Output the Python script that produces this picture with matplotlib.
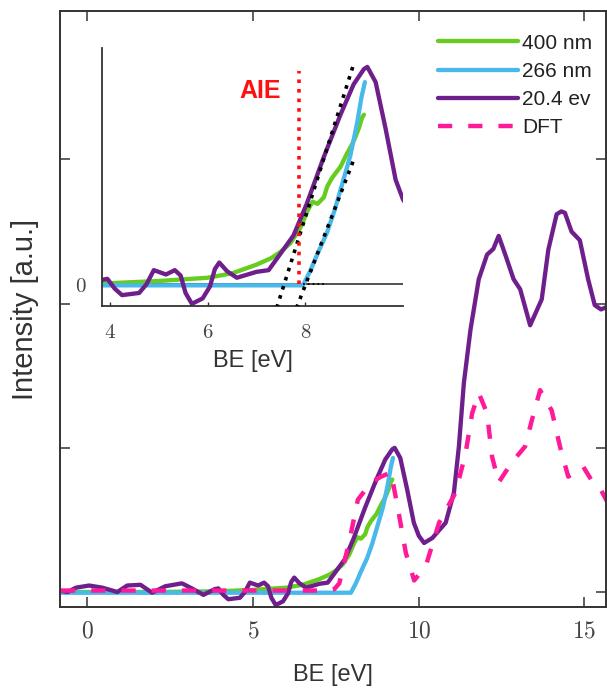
import matplotlib
matplotlib.use("Agg")
import matplotlib.pyplot as plt
from matplotlib.ticker import FuncFormatter

plt.rcParams['mathtext.fontset'] = 'cm'
plt.rcParams['font.family'] = ['Liberation Sans', 'DejaVu Sans']
plt.rcParams['lines.solid_joinstyle'] = 'round'
plt.rcParams['lines.solid_capstyle'] = 'round'

# ---------------- data ----------------
x_400 = [-0.8, 2.0, 4.0, 5.0, 6.0, 6.5, 7.0, 7.3, 7.5, 7.7, 7.9, 8.05, 8.15, 8.25, 8.38,
         8.45, 8.55, 8.65, 8.72, 8.85, 8.95, 9.03, 9.1, 9.16, 9.2]
y_400 = [0.0, 0.0, 0.005, 0.015, 0.03, 0.05, 0.09, 0.12, 0.15, 0.19, 0.26, 0.34, 0.38, 0.37, 0.40,
         0.45, 0.49, 0.52, 0.54, 0.60, 0.64, 0.68, 0.72, 0.765, 0.78]

x_266 = [-0.8, 7.95, 8.1, 8.25, 8.44, 8.6, 8.78, 8.92, 9.06, 9.15, 9.22]
y_266 = [-0.005, -0.005, 0.06, 0.14, 0.235, 0.34, 0.48, 0.59, 0.74, 0.86, 0.93]

x_uv = [-0.85, -0.6, -0.35, 0.05, 0.45, 0.9, 1.2, 1.6, 1.95, 2.35, 2.85, 3.15, 3.5, 3.84, 3.95, 4.1,
        4.25, 4.6, 4.75, 4.9, 5.15, 5.33, 5.45, 5.55, 5.68, 5.9, 6.05, 6.15, 6.24, 6.4, 6.6, 7.0,
        7.25, 7.49, 7.76, 8.03, 8.37, 8.72, 8.99, 9.2, 9.27, 9.44, 9.64, 9.85, 10.0, 10.16, 10.41,
        10.81, 11.06, 11.21, 11.36, 11.56, 11.81, 12.06, 12.25, 12.41, 12.61, 12.86, 13.06, 13.36,
        13.71, 13.91, 14.16, 14.3, 14.41, 14.61, 14.86, 15.11, 15.31, 15.5, 15.7]
y_uv = [0.01, 0.0, 0.03, 0.045, 0.03, 0.0, 0.045, 0.05, -0.005, 0.04, 0.06, 0.025, -0.02, 0.02, 0.025, -0.02,
        -0.05, -0.04, 0.0, 0.065, 0.045, 0.065, 0.04, -0.04, -0.09, -0.065, -0.01, 0.07, 0.10, 0.06, 0.03, 0.057,
        0.065, 0.14, 0.225, 0.37, 0.58, 0.78, 0.92, 0.99, 1.0, 0.93, 0.72, 0.48, 0.39, 0.34, 0.375,
        0.48, 0.69, 1.01, 1.45, 1.82, 2.17, 2.34, 2.38, 2.47, 2.34, 2.17, 2.10, 1.85,
        2.03, 2.375, 2.62, 2.64, 2.63, 2.50, 2.44, 2.17, 1.99, 1.96, 1.98]

x_dft = [-0.8, 7.3, 7.45, 7.6, 7.91, 8.16, 8.56, 8.86, 9.16, 9.36, 9.61, 9.86, 10.21, 10.61,
         11.11, 11.41, 11.61, 11.81, 12.06, 12.21, 12.41, 12.81, 13.21, 13.41, 13.66, 14.01,
         14.26, 14.51, 14.96, 15.2, 15.47, 15.7]
y_dft = [0.01, 0.01, 0.02, 0.06, 0.36, 0.64, 0.76, 0.80, 0.83, 0.59, 0.27, 0.08, 0.18, 0.48,
         0.69, 0.96, 1.24, 1.38, 1.24, 0.94, 0.76, 0.90, 1.01, 1.19, 1.40, 1.26,
         1.01, 0.80, 0.87, 0.78, 0.72, 0.62]

labels = ['400 nm', '266 nm', '20.4 ev', 'DFT']

# onset fit lines and adiabatic ionisation energy (inset)
fit1_x = [7.357, 9.0]
fit1_y = [-0.15, 1.02]
fit2_x = [7.75, 9.0]
fit2_y = [-0.15, 0.578]
zero_fit_x = [7.96, 8.45]
zero_fit_y = [0.0, 0.0]
aie_x = 7.88
aie_top = 0.98

main_xticks = [0, 5, 10, 15]
main_yticks = [0, 1, 2, 3]
inset_xticks = [4, 6, 8]
inset_yticks = [0]

# ---------------- style ----------------
c_green = '#66cc1e'
c_blue = '#48b9ea'
c_purple = '#6e1f8c'
c_pink = '#ff1a9a'
c_text = '#333333'

W, H = 607, 689
fig = plt.figure(figsize=(W / 100, H / 100), dpi=100)

def fx(px):
    return px / W

def fy(py):
    return (H - py) / H

ax = fig.add_axes([fx(60), fy(607), fx(606) - fx(60), fy(11) - fy(607)])
lw = 3.1
ax.plot(x_400, y_400, color=c_green, lw=lw, label=labels[0])
ax.plot(x_266, y_266, color=c_blue, lw=lw, label=labels[1])
ax.plot(x_uv, y_uv, color=c_purple, lw=lw, label=labels[2])
l_dft, = ax.plot(x_dft, y_dft, color=c_pink, lw=3.2, label=labels[3])
l_dft.set_dashes([3.2, 3.6])

ax.set_xlim(-0.83, 15.65)
ax.set_ylim(-0.104, 4.03)
ax.set_xticks(main_xticks)
ax.set_yticks(main_yticks)
ax.xaxis.set_major_formatter(FuncFormatter(lambda v, p: f"${v:g}$"))
ax.tick_params(axis='both', direction='in', length=7, width=1.1, color=c_text,
               top=True, right=True, labelsize=17, labelcolor='#444444', pad=10)
ax.tick_params(axis='y', labelleft=False)
for s in ax.spines.values():
    s.set_color(c_text)
    s.set_linewidth(1.4)
ax.set_xlabel('BE [eV]', fontsize=17, color=c_text, labelpad=15)
ax.set_ylabel('Intensity [a.u.]', fontsize=21, color=c_text, labelpad=15)

leg = ax.legend(loc='upper left', bbox_to_anchor=(0.692, 0.962), frameon=False,
                fontsize=15, handlelength=3.85, handletextpad=0.2, labelspacing=0.44,
                borderpad=0, borderaxespad=0)
for t in leg.get_texts():
    t.set_color('#222222')

# ---------------- inset ----------------
ins = fig.add_axes([fx(102), fy(306), fx(403) - fx(102), fy(48) - fy(306)])
ins.plot(x_400, y_400, color=c_green, lw=lw)
ins.plot(x_266, y_266, color=c_blue, lw=lw)
ins.plot(x_uv, y_uv, color=c_purple, lw=lw)
ins.axhline(0, color='#222222', lw=1.1, zorder=1.5)
ins.plot(fit1_x, fit1_y, color='black', lw=2.6, ls=':', zorder=4)
ins.plot(fit2_x, fit2_y, color='black', lw=2.6, ls=':', zorder=4)
ins.plot(zero_fit_x, zero_fit_y, color='black', lw=1.3, ls=':', zorder=4)
ins.plot([aie_x, aie_x], [0, aie_top], color='#ff1010', lw=2.6, ls=':', zorder=5)
ins.text(7.08, 0.89, 'AIE', color='#ff1010', fontsize=18, fontweight='bold',
         ha='center', va='center')

ins.set_xlim(3.84, 10.0)
ins.set_ylim(-0.10, 1.087)
ins.set_xticks(inset_xticks)
ins.set_yticks(inset_yticks)
ins.xaxis.set_major_formatter(FuncFormatter(lambda v, p: f"${v:g}$"))
ins.yaxis.set_major_formatter(FuncFormatter(lambda v, p: f"${v:g}$"))
ins.tick_params(axis='both', direction='in', length=3, width=1.0, color=c_text,
                labelsize=15, labelcolor='#444444')
ins.tick_params(axis='x', pad=12)
ins.tick_params(axis='y', pad=11, length=0)
ins.spines['top'].set_visible(False)
ins.spines['right'].set_visible(False)
for s in ['left', 'bottom']:
    ins.spines[s].set_color(c_text)
    ins.spines[s].set_linewidth(1.3)
ins.patch.set_alpha(0)
ins.set_xlabel('BE [eV]', fontsize=17, color=c_text, labelpad=6)

fig.savefig('out.png', dpi=100)
